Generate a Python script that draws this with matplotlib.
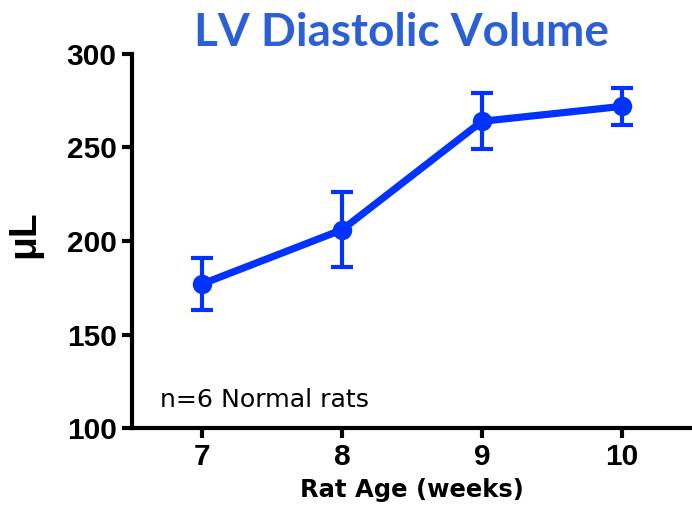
import matplotlib
matplotlib.use('Agg')
import matplotlib.pyplot as plt

# 데이터
weeks = [7, 8, 9, 10]
volume = [177, 206, 264, 272]
err = [14, 20, 15, 10]
y_ticks = [100, 150, 200, 250, 300]

BLUE = '#0033FF'
TITLE_BLUE = '#2C5FD3'

plt.rcParams['font.family'] = ['Liberation Sans', 'DejaVu Sans']

fig = plt.figure(figsize=(6.92, 5.19), dpi=100)
ax = fig.add_axes([0.1908, 0.1753, 0.8092, 0.7207])

ax.errorbar(weeks, volume, yerr=err, color=BLUE, lw=5.2, marker='o', ms=13,
            elinewidth=3, capsize=8, capthick=3, zorder=3)

ax.set_xlim(6.5, 10.5)
ax.set_ylim(100, 300)
ax.set_xticks(weeks)
ax.set_yticks(y_ticks)
ax.tick_params(width=3, length=7, labelsize=21.5, pad=4)
for lab in ax.get_xticklabels() + ax.get_yticklabels():
    lab.set_fontweight('bold')

for s in ['top', 'right']:
    ax.spines[s].set_visible(False)
for s in ['left', 'bottom']:
    ax.spines[s].set_linewidth(3)

ax.set_xlabel('Rat Age (weeks)', fontsize=17.5, fontweight='bold',
              family=['DejaVu Sans'], labelpad=5)
ax.set_ylabel('μL', fontsize=28, fontweight='bold')
ax.yaxis.set_label_coords(-0.16, 0.517)

ax.text(6.7, 111.2, 'n=6 Normal rats', fontsize=18.2, va='baseline', ha='left',
        family=['DejaVu Sans'])

fig.text(0.5795, 0.9114, 'LV Diastolic Volume', color=TITLE_BLUE, fontsize=33,
         fontweight='bold', family=['Lato', 'DejaVu Sans'],
         ha='center', va='baseline')

plt.savefig('out.png', dpi=100)
